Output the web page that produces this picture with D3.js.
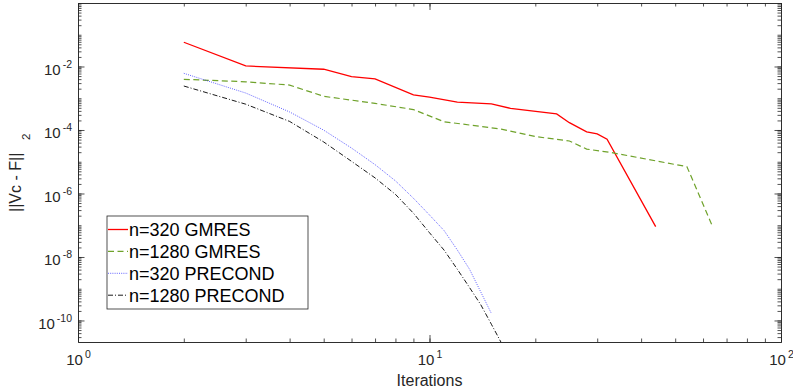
<!DOCTYPE html>
<meta charset="utf-8">
<head>
	<title>GMRES convergence</title>
</head>

<style>

body {
	margin: 0;
	background: #fff;
}

svg {
	display: block;
	font-family: "Liberation Sans", Arial, sans-serif;
}

.axis path, .axis line {
	stroke: #262626;
	stroke-width: 0.8;
}

.axis text {
	fill: #262626;
	font-size: 15px;
}

.series {
	fill: none;
}

</style>

<body>

	<svg class="chart" width="793" height="392"></svg>

<script src="https://cdnjs.cloudflare.com/ajax/libs/d3/7.8.5/d3.min.js"></script>
<script>

// data
var iter320gmres = [2, 3, 5, 6, 7, 9, 10, 12, 15, 17, 23, 25, 28, 30, 32, 44];
var res320gmres = [5.8e-2, 1.04e-2, 8.2e-3, 4.8e-3, 4.1e-3, 1.27e-3, 1.09e-3, 7.5e-4, 6.6e-4, 4.8e-4, 3.2e-4, 1.7e-4, 8.7e-5, 7.5e-5, 5.1e-5, 9.0e-8];

var iter1280gmres = [2, 3, 4, 5, 7, 9, 11, 16, 20, 25, 28, 33, 54, 64];
var res1280gmres = [3.95e-3, 3.3e-3, 2.6e-3, 1.15e-3, 6.9e-4, 4.4e-4, 1.82e-4, 1.07e-4, 6.2e-5, 4.5e-5, 2.5e-5, 1.93e-5, 7.0e-6, 8.6e-8];

var iter320pre = [2, 3, 4, 5, 6, 7, 8, 9, 10, 11, 12, 13, 14, 15];
var res320pre = [6.1e-3, 1.46e-3, 3.7e-4, 9.9e-5, 2.7e-5, 8.1e-6, 2.5e-6, 7.1e-7, 2.1e-7, 6.8e-8, 1.66e-8, 4.1e-9, 7.8e-10, 1.66e-10];

var iter1280pre = [2, 3, 4, 5, 6, 7, 8, 9, 10, 11, 12, 13, 14, 15, 16];
var res1280pre = [2.43e-3, 6.5e-4, 1.86e-4, 4.2e-5, 1.03e-5, 3.1e-6, 9.4e-7, 2.4e-7, 5.8e-8, 1.65e-8, 4.1e-9, 1.09e-9, 3.1e-10, 7.6e-11, 2.0e-11];

var seriesNames = ['n=320 GMRES', 'n=1280 GMRES', 'n=320 PRECOND', 'n=1280 PRECOND'];

var xTickExp = [0, 1, 2];
var yTickExp = [-2, -4, -6, -8, -10];

var xLimits = [1, 100];
var yLimits = [2.1e-11, 1];

// styles per series
var colors = ['#ff0000', '#6fa22b', '#2020ff', '#000000'];
var dashes = [null, '6,3.5', '1,1.2', '5,2,1,2'];
var widths = [1.3, 1.2, 0.7, 0.9];

var margin = {left: 78, top: 3, right: 12, bottom: 50};
var W = 793, H = 392;

var svg = d3.select('.chart');

var x = d3.scaleLog().domain(xLimits).range([margin.left, W - margin.right]);
var y = d3.scaleLog().domain(yLimits).range([H - margin.bottom, margin.top]);

var x0 = x.range()[0], x1 = x.range()[1];
var y0 = y.range()[0], y1 = y.range()[1];

// minor tick values (1..9 per decade)
function minors(lo, hi, k0, k1) {
	var out = [];
	for (var k = k0; k <= k1; k++) {
		for (var m = 1; m <= 9; m++) {
			var v = m * Math.pow(10, k);
			if (v >= lo * 0.999 && v <= hi * 1.001) out.push(v);
		}
	}
	return out;
}

var xMinor = minors(xLimits[0], xLimits[1], 0, 2);
var yMinor = minors(yLimits[0], yLimits[1], -11, 0);
var xMajor = xTickExp.map(function(e) { return Math.pow(10, e); });
var yMajor = yTickExp.map(function(e) { return Math.pow(10, e); });

// lines, clipped to the axes box
svg.append('clipPath').attr('id', 'box')
	.append('rect')
	.attr('x', x0).attr('y', y1)
	.attr('width', x1 - x0).attr('height', y0 - y1);

var allData = [
	d3.zip(iter320gmres, res320gmres),
	d3.zip(iter1280gmres, res1280gmres),
	d3.zip(iter320pre, res320pre),
	d3.zip(iter1280pre, res1280pre)
];

var line = d3.line()
	.x(function(d) { return x(d[0]); })
	.y(function(d) { return y(d[1]); });

svg.append('g')
	.attr('clip-path', 'url(#box)')
	.selectAll('path')
	.data(allData)
	.enter()
	.append('path')
	.classed('series', true)
	.attr('d', line)
	.attr('stroke', function(d, i) { return colors[i]; })
	.attr('stroke-width', function(d, i) { return widths[i]; })
	.attr('stroke-dasharray', function(d, i) { return dashes[i]; });

// axes: minor ticks on all four sides, then major ticks + labels
function drawAxis(axis, tx, ty) {
	return svg.append('g')
		.classed('axis', true)
		.attr('transform', 'translate(' + tx + ',' + ty + ')')
		.call(axis);
}

drawAxis(d3.axisBottom(x).tickValues(xMinor).tickSize(-3.5).tickSizeOuter(0).tickFormat(''), 0, y0);
drawAxis(d3.axisTop(x).tickValues(xMinor).tickSize(-3.5).tickSizeOuter(0).tickFormat(''), 0, y1);
drawAxis(d3.axisLeft(y).tickValues(yMinor).tickSize(-3.5).tickSizeOuter(0).tickFormat(''), x0, 0);
drawAxis(d3.axisRight(y).tickValues(yMinor).tickSize(-3.5).tickSizeOuter(0).tickFormat(''), x1, 0);

drawAxis(d3.axisTop(x).tickValues(xMajor).tickSize(-7).tickSizeOuter(0).tickFormat(''), 0, y1);
drawAxis(d3.axisRight(y).tickValues(yMajor).tickSize(-6.5).tickSizeOuter(0).tickFormat(''), x1, 0);

var gx = drawAxis(d3.axisBottom(x).tickValues(xMajor).tickSize(-7).tickSizeOuter(0).tickPadding(6), 0, y0);
var gy = drawAxis(d3.axisLeft(y).tickValues(yMajor).tickSize(-6.5).tickSizeOuter(0).tickPadding(6), x0, 0);

// "10" with superscript exponent
function powerLabel(sel) {
	sel.each(function(d) {
		var t = d3.select(this);
		var e = Math.round(Math.log10(d));
		t.text(null);
		t.append('tspan').text('10');
		t.append('tspan')
			.attr('dx', 2)
			.attr('dy', -7)
			.style('font-size', '10.5px')
			.text(e);
	});
}

gx.selectAll('.tick text')
	.attr('y', 23)
	.attr('dy', 0)
	.call(powerLabel);

gy.selectAll('.tick text')
	.attr('x', -6)
	.attr('dy', 8)
	.call(powerLabel);

// axis titles
svg.append('text')
	.attr('x', (x0 + x1) / 2)
	.attr('y', 386)
	.attr('text-anchor', 'middle')
	.style('font-size', '16px')
	.style('fill', '#262626')
	.text('Iterations');

var ylab = svg.append('g')
	.attr('transform', 'translate(21,212) rotate(-90)');
ylab.append('text')
	.attr('x', 0)
	.attr('y', 0)
	.style('font-size', '16px')
	.style('fill', '#262626')
	.text('||Vc - F||');
ylab.append('text')
	.attr('x', 72)
	.attr('y', 9)
	.style('font-size', '11.5px')
	.style('fill', '#262626')
	.text('2');

// legend
var leg = svg.append('g').attr('transform', 'translate(107,216)');

leg.append('rect')
	.attr('width', 201)
	.attr('height', 93)
	.attr('fill', '#fff')
	.attr('stroke', '#262626')
	.attr('stroke-width', 0.8);

var items = leg.selectAll('.item')
	.data(seriesNames)
	.enter()
	.append('g')
	.classed('item', true)
	.attr('transform', function(d, i) { return 'translate(0,' + (13.5 + i * 21.9) + ')'; });

items.append('line')
	.attr('x1', 1).attr('x2', 21)
	.attr('stroke', function(d, i) { return colors[i]; })
	.attr('stroke-width', function(d, i) { return widths[i]; })
	.attr('stroke-dasharray', function(d, i) { return dashes[i]; });

items.append('text')
	.attr('x', 22)
	.attr('dy', '0.36em')
	.style('font-size', '18px')
	.style('fill', '#000')
	.text(function(d) { return d; });

</script>

</body>
</html>
